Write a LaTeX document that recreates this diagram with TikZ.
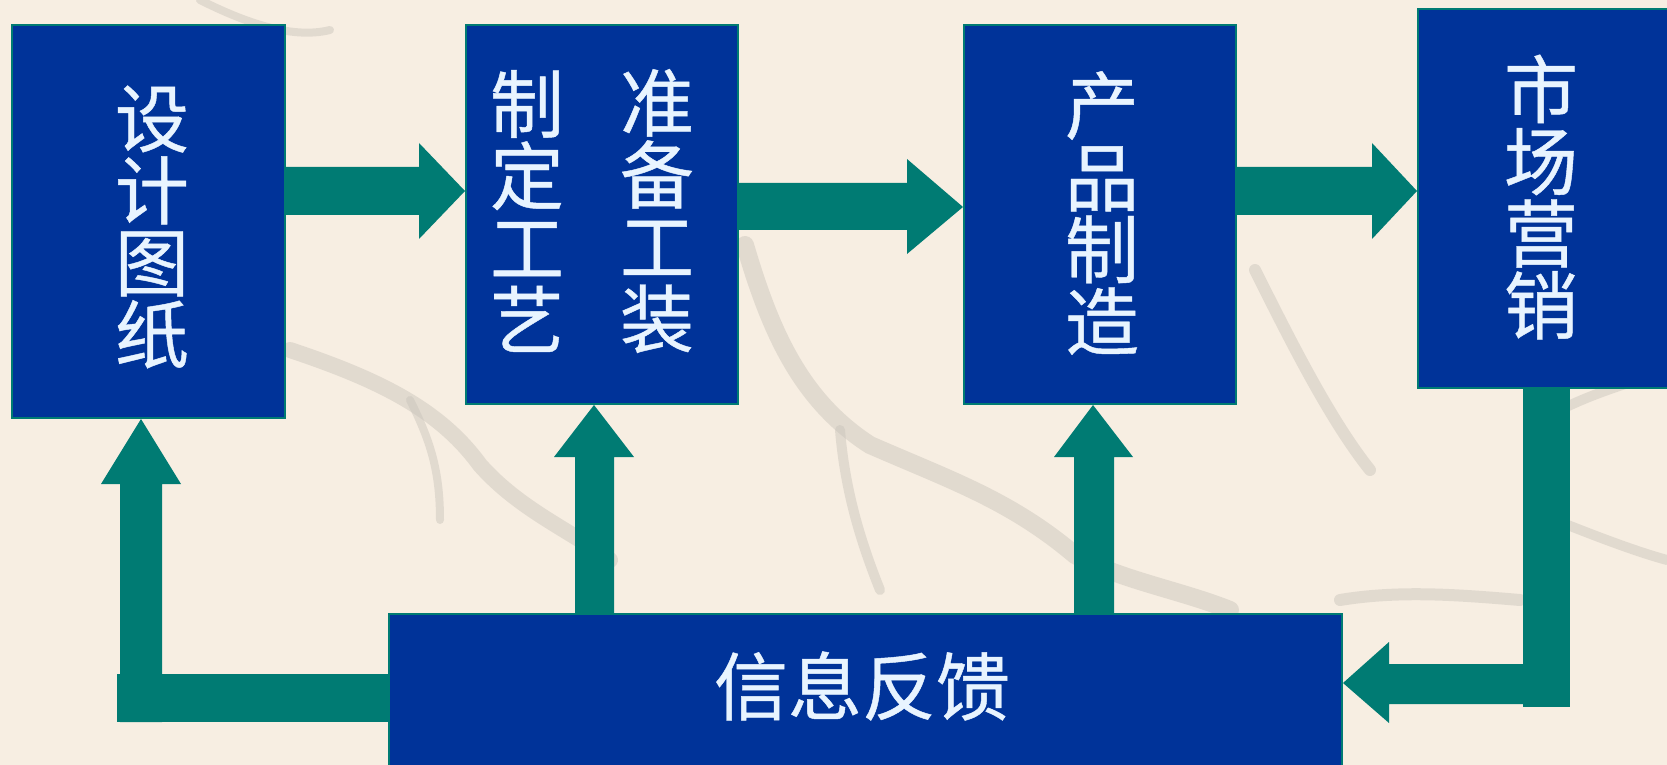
\documentclass[tikz,border=0pt]{standalone}
\usepackage{fontspec}
\newfontfamily\cjk[FakeBold=0.6]{Noto Sans CJK SC}
\definecolor{boxblue}{RGB}{0,51,153}
\definecolor{teal}{RGB}{0,123,115}
\definecolor{txt}{RGB}{232,244,255}
\definecolor{paper}{RGB}{247,238,226}
\definecolor{branch}{RGB}{200,194,186}
\tikzset{
  box/.style={draw=teal, line width=1pt, fill=boxblue, inner sep=0pt},
  btext/.style={text=txt, inner sep=0pt, font=\cjk\fontsize{37}{36}\selectfont, align=center},
  arr/.style={fill=teal}
}
\begin{document}
\begin{tikzpicture}[x=0.5pt,y=-0.5pt]
\fill[paper] (0,0) rectangle (1667,765);
\useasboundingbox (0,0) rectangle (1667,765);
\clip (0,0) rectangle (1667,765);
% faint background branches
\begin{scope}[branch, line cap=round, line join=round, opacity=0.45]
\draw[line width=8pt] (290,350) .. controls (380,380) and (440,410) .. (480,465) .. controls (520,510) and (570,530) .. (610,560);
\draw[line width=9pt] (745,245) .. controls (770,330) and (800,400) .. (870,445) .. controls (950,480) and (1010,500) .. (1075,555) .. controls (1120,580) and (1180,590) .. (1230,610);
\draw[line width=5pt] (840,430) .. controls (845,490) and (860,540) .. (880,590);
\draw[line width=6pt] (1255,270) .. controls (1290,340) and (1330,420) .. (1370,470);
\draw[line width=5pt] (1560,410) .. controls (1600,390) and (1640,380) .. (1667,370);
\draw[line width=5pt] (1530,510) .. controls (1580,530) and (1630,550) .. (1667,560);
\draw[line width=6pt] (1340,600) .. controls (1400,590) and (1460,595) .. (1520,600);
\draw[line width=4pt] (200,0) .. controls (240,20) and (290,40) .. (330,30);
\draw[line width=4pt] (410,400) .. controls (430,440) and (440,470) .. (440,520);
\end{scope}

% boxes
\node[box, minimum width=136.5pt, minimum height=196.5pt] (b1) at (148.5,221.5) {};
\node[box, minimum width=136pt, minimum height=189.5pt] (b2) at (602,214.5) {};
\node[box, minimum width=136pt, minimum height=189.5pt] (b3) at (1100,214.5) {};
\node[box, minimum width=131pt, minimum height=189.5pt] (b4) at (1549,198.5) {};
\node[box, minimum width=476.5pt, minimum height=83pt] (b5) at (865.5,697) {};

% texts
\node[btext] (t1) at (152,227) {设\\计\\图\\纸};
\node[btext] (t2a) at (527,211) {制\\定\\工\\艺};
\node[btext] (t2b) at (657,211) {准\\备\\工\\装};
\node[btext] (t3) at (1102,213) {产\\品\\制\\造};
\node[btext] (t4) at (1541,197) {市\\场\\营\\销};
\node[btext] (t5) at (862,686) {信息反馈};

% arrows between top boxes
\fill[arr] (b1.east |- 0,167) -- (419,167) -- (419,143) -- (b2.west |- 0,191)
  -- (419,239) -- (419,215) -- (b1.east |- 0,215) -- cycle;
\fill[arr] (b2.east |- 0,183) -- (907,183) -- (907,159) -- (b3.west |- 0,207)
  -- (907,254) -- (907,230) -- (b2.east |- 0,230) -- cycle;
\fill[arr] (b3.east |- 0,167) -- (1372,167) -- (1372,143) -- (b4.west |- 0,191)
  -- (1372,239) -- (1372,215) -- (b3.east |- 0,215) -- cycle;

% marketing -> feedback
\fill[arr] (1523,0 |- b4.south) -- (1570,0 |- b4.south) -- (1570,707) -- (1523,707) -- cycle;
\fill[arr] (1523,664) -- (1389,664) -- (1389,642) -- (b5.east |- 0,683)
  -- (1389,723) -- (1389,704) -- (1523,704) -- cycle;

% feedback -> design drawing
\fill[arr] (b5.west |- 0,674) -- (117,674) -- (117,722) -- (b5.west |- 0,722) -- cycle;
\fill[arr] (120,722) -- (120,484) -- (101,484) -- (141,0 |- b1.south)
  -- (181,484) -- (162,484) -- (162,722) -- cycle;

% feedback -> process / manufacturing
\fill[arr] (575,0 |- b5.north) -- (575,457) -- (554,457) -- (594,0 |- b2.south)
  -- (634,457) -- (614,457) -- (614,0 |- b5.north) -- cycle;
\fill[arr] (1074,0 |- b5.north) -- (1074,457) -- (1054,457) -- (1093,0 |- b3.south)
  -- (1133,457) -- (1114,457) -- (1114,0 |- b5.north) -- cycle;
\end{tikzpicture}
\end{document}
